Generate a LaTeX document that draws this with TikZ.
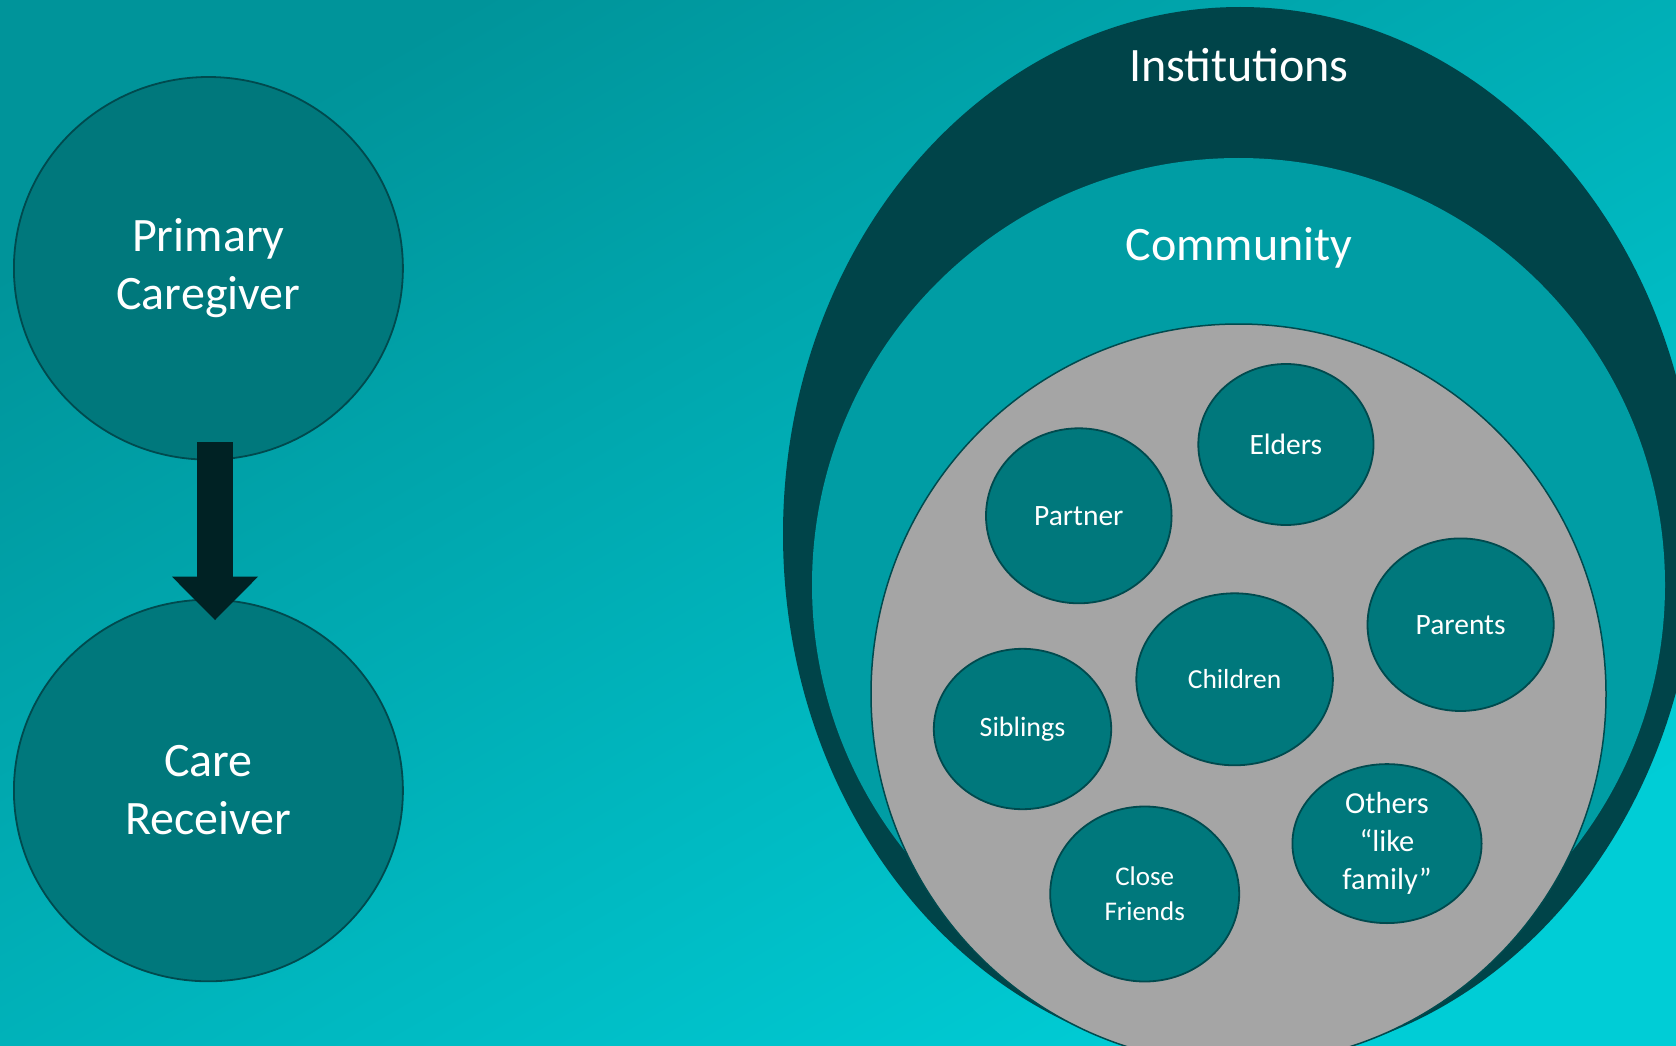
\documentclass[tikz,border=0pt]{standalone}
\usepackage{fontspec}
\setmainfont{Carlito}
\usetikzlibrary{shapes.geometric,arrows.meta,calc}

\definecolor{bgTL}{RGB}{0,148,154}
\definecolor{bgBR}{RGB}{0,205,214}
\definecolor{instc}{RGB}{0,68,73}
\definecolor{commc}{RGB}{0,157,164}
\definecolor{famc}{RGB}{165,165,165}
\definecolor{bubc}{RGB}{0,120,124}
\definecolor{rimc}{RGB}{0,74,78}
\definecolor{arrowc}{RGB}{0,34,36}

\tikzset{
  ring/.style={ellipse, inner sep=0pt, outer sep=0pt},
  ringlabel/.style={anchor=base, inner sep=0pt, text=white,
    font=\fontsize{48}{58}\selectfont},
  bubble/.style={ellipse, fill=bubc, draw=rimc, line width=1.8pt,
    inner sep=0pt, outer sep=0pt, text=white, align=center},
  bigbubble/.style={bubble, font=\fontsize{48}{58}\selectfont},
  blockarrow/.style={draw=arrowc, line width=36.6pt,
    -{Triangle[width=86pt, length=43.3pt, line width=0pt]}},
}

\begin{document}
\begin{tikzpicture}[x=1pt,y=1pt]
\useasboundingbox (0,0) rectangle (1676,-1046);
\clip (0,0) rectangle (1676,-1046);

% backdrop
\shade[top color=bgTL, bottom color=bgBR, shading angle=30] (0,0) rectangle (1676,-1046);

% nested circles of support
\node[ring, fill=instc, minimum width=914pt, minimum height=1054pt] (inst) at (1240,-534) {};
\node[ring, fill=commc, minimum width=853pt, minimum height=854pt] (comm) at (1238.5,-585) {};
\node[ring, fill=famc, draw=rimc, line width=1.5pt, minimum width=735pt, minimum height=740pt] (fam) at (1238.5,-694) {};

\node[ringlabel] (instlbl) at (1239,-82) {Institutions};
\node[ringlabel] (commlbl) at (1239,-260) {Community};

% family members
\node[bubble, minimum width=175.2pt, minimum height=161pt, font=\fontsize{29.5}{35}\selectfont] (elders) at (1285.9,-444.5) {Elders};
\node[bubble, minimum width=185.6pt, minimum height=175pt, font=\fontsize{29.5}{35}\selectfont] (partner) at (1078.8,-515.8) {Partner};
\node[bubble, minimum width=186.2pt, minimum height=172.6pt, font=\fontsize{29.5}{35}\selectfont] (parents) at (1460.6,-624.7) {Parents};
\node[bubble, minimum width=196.6pt, minimum height=172pt, font=\fontsize{27.5}{35}\selectfont] (children) at (1234.6,-679.3) {Children};
\node[bubble, minimum width=177.4pt, minimum height=160.4pt, font=\fontsize{28}{35}\selectfont] (siblings) at (1022.5,-729) {Siblings};
\node[bubble, minimum width=189pt, minimum height=175pt, font=\fontsize{27}{35}\selectfont] (friends) at (1144.7,-894) {Close\\Friends};
\node[bubble, minimum width=189.2pt, minimum height=159pt, font=\fontsize{30.5}{38}\selectfont] (others) at (1387,-843.6) {Others\\“like\\family”};

% caregiver and receiver
\node[bigbubble, minimum width=389pt, minimum height=382.6pt] (pc) at (208.4,-268.3) {Primary\\Caregiver};
\node[bigbubble, minimum width=389pt, minimum height=381.6pt] (cr) at (208.4,-790.5) {Care\\Receiver};

\draw[blockarrow] ($(pc.south)+(6.6,17.6)$) -- ($(cr.north)+(6.6,-20.3)$);
\end{tikzpicture}
\end{document}
